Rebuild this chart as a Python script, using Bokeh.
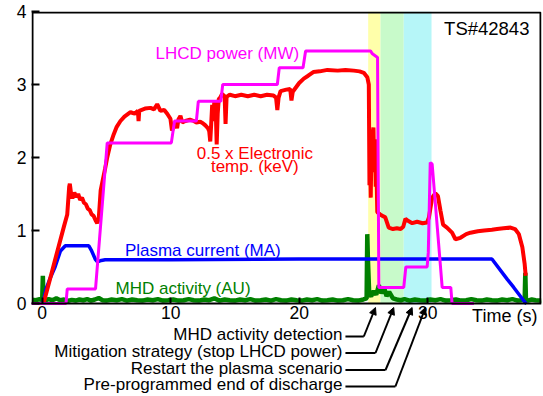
from bokeh.plotting import figure
from bokeh.models import Range1d, LinearAxis, FixedTicker, Arrow, NormalHead
from bokeh.core.properties import value
from bokeh.embed import file_html
from bokeh.resources import INLINE

FONT = "Liberation Sans"

# ---------------- data (time in s) ----------------
# Plasma current (MA)
ip_t = [0.05, 0.3, 0.65, 1.0, 1.42, 1.8, 3.63, 3.85, 4.15, 4.3, 4.6, 4.9, 10.0, 20.0, 25.0, 30.0, 35.0, 36.2, 36.7, 37.6, 37.7]
ip_y = [0.0, 0.2, 0.36, 0.5, 0.72, 0.79, 0.79, 0.72, 0.6, 0.57, 0.59, 0.6, 0.6, 0.61, 0.61, 0.61, 0.61, 0.33, 0.22, 0.01, 0.0]

# LHCD power (MW)
lh_t = [-0.83, 1.85, 1.95, 4.15, 5.06, 10.05, 10.3, 12.0, 12.15, 13.9, 14.05, 18.3, 18.45, 20.3, 20.5,
        25.55, 25.7, 26.1, 26.2, 26.3, 28.14, 28.3, 29.96, 30.05, 30.2, 30.35, 31.13, 31.8, 31.9, 33.6]
lh_y = [0.0, 0.0, 0.2, 0.2, 2.2, 2.2, 2.5, 2.5, 2.77, 2.77, 3.0, 3.0, 3.23, 3.23, 3.46,
        3.46, 3.42, 3.37, 0.22, 0.22, 0.22, 0.5, 0.5, 0.7, 1.93, 1.91, 0.22, 0.22, 0.0, 0.0]

# 0.5 x Electronic temperature (keV)
te_t = [0.1, 0.6, 1.2, 1.7, 1.95, 2.1, 2.15, 2.25, 2.35, 2.5, 2.65, 2.8, 2.95, 3.1, 3.25, 3.4, 3.55, 3.7,
        3.85, 4.0, 4.15, 4.28, 4.4, 4.55, 4.7, 4.9, 5.06, 5.3, 5.57, 5.8, 6.09, 6.4, 6.87, 7.2, 7.45,
        7.5, 7.55, 8.0, 8.43, 8.7, 8.95, 9.2, 9.5, 9.73, 9.98, 10.1, 10.25, 10.37, 10.5, 10.6, 10.76,
        10.9, 11.15, 11.5, 11.8, 12.0, 12.3, 12.5, 12.7, 12.9, 13.0, 13.08, 13.15, 13.23, 13.3, 13.4,
        13.5, 13.58, 13.66, 13.74, 13.85, 14.0, 14.2, 14.27, 14.35, 14.6, 15.0, 15.5, 16.0, 16.5, 17.0,
        17.5, 18.0, 18.2, 18.3, 18.4, 18.55, 19.0, 19.3, 19.4, 19.5, 20.0, 20.36, 20.7, 21.1, 21.6,
        22.2, 23.0, 23.6, 24.25, 24.7, 25.03, 25.3, 25.42, 25.47, 25.52, 25.57, 25.63, 25.7, 25.78,
        25.84, 25.9, 25.96, 26.02, 26.08, 26.3, 26.5, 26.7, 26.97, 27.3, 27.6, 27.9, 28.1, 28.27, 28.5,
        28.8, 29.18, 29.6, 29.96, 30.1, 30.35, 30.6, 30.8, 31.0, 31.2, 31.5, 31.9, 32.16, 32.55, 33.0,
        33.33, 33.9, 34.4, 35.0, 35.4, 35.9, 36.45, 36.8, 37.1, 37.37, 37.55, 37.63]
te_y = [0.0, 0.33, 0.73, 1.06, 1.22, 1.6, 1.64, 1.5, 1.44, 1.52, 1.46, 1.5, 1.42, 1.45, 1.38, 1.36, 1.3, 1.28,
        1.22, 1.2, 1.14, 1.1, 1.16, 1.55, 1.68, 1.85, 2.0, 2.18, 2.32, 2.42, 2.5, 2.56, 2.62, 2.6, 2.64,
        2.5, 2.64, 2.67, 2.68, 2.66, 2.73, 2.64, 2.65, 2.6, 2.53, 2.37, 2.42, 2.48, 2.4, 2.52, 2.57,
        2.48, 2.5, 2.52, 2.5, 2.48, 2.49, 2.47, 2.44, 2.4, 2.36, 2.22, 2.45, 2.72, 2.5, 2.78,
        2.7, 2.18, 2.6, 2.8, 2.82, 2.87, 2.84, 2.46, 2.83, 2.86, 2.84, 2.86, 2.84, 2.86, 2.84,
        2.86, 2.85, 2.82, 2.65, 2.82, 2.91, 2.93, 2.94, 2.78, 2.9, 3.02, 3.08, 3.12, 3.17, 3.18,
        3.2, 3.19, 3.2, 3.19, 3.18, 3.16, 3.1, 3.0, 1.62, 2.05, 1.45, 2.2, 2.3, 2.41,
        1.8, 2.25, 1.6, 1.8, 1.25, 1.22, 1.2, 1.18, 1.04, 1.02, 1.03, 1.02, 1.05, 1.16, 1.13,
        1.1, 1.12, 1.1, 1.11, 1.18, 1.45, 1.51, 1.47, 1.27, 1.08, 1.04, 0.97, 0.88, 0.9, 0.95,
        0.97, 0.99, 1.0, 1.01, 1.02, 1.03, 1.04, 1.02, 0.95, 0.77, 0.54, 0.38]

# MHD activity (AU)
mhd_t = [-0.8, -0.5, -0.2, 0.0, 0.05, 0.1, 0.2, 0.5, 0.8, 1.1, 1.4, 1.7, 2.0, 2.3, 2.6, 2.9, 3.2, 3.5, 3.8,
         4.1, 4.4, 4.7, 5.0, 5.4, 5.8, 6.2, 6.6, 7.0, 7.4, 7.8, 8.2, 8.6, 9.0, 9.4, 9.8, 10.2, 10.6, 11.0,
         11.4, 11.8, 12.2, 12.6, 13.0, 13.4, 13.8, 14.2, 14.6, 15.0, 15.4, 15.8, 16.2, 16.6, 17.0, 17.4,
         17.8, 18.2, 18.6, 19.0, 19.4, 19.8, 20.2, 20.6, 21.0, 21.4, 21.8, 22.2, 22.6, 23.0, 23.4, 23.8,
         24.2, 24.6, 25.0, 25.25, 25.3, 25.35, 25.45, 25.6, 25.8, 26.0, 26.2, 26.4, 26.6, 26.8, 27.0,
         27.3, 27.6, 27.9, 28.2, 28.6, 29.0, 29.4, 29.8, 30.2, 30.6, 31.0, 31.4, 31.8, 32.2, 32.6, 33.0,
         33.4, 33.8, 34.2, 34.6, 35.0, 35.4, 35.8, 36.2, 36.6, 37.0, 37.3, 37.55, 37.6, 37.65, 37.8,
         38.1, 38.4, 38.7, 38.86]
mhd_y = [0.05, 0.045, 0.06, 0.045, 0.38, 0.05, 0.04, 0.06, 0.045, 0.07, 0.045, 0.055, 0.035, 0.05, 0.04, 0.055, 0.045, 0.06, 0.04,
         0.055, 0.075, 0.045, 0.04, 0.055, 0.045, 0.06, 0.04, 0.055, 0.045, 0.04, 0.055, 0.045, 0.06, 0.04, 0.045, 0.055, 0.04, 0.045,
         0.06, 0.045, 0.04, 0.055, 0.045, 0.07, 0.04, 0.055, 0.045, 0.04, 0.055, 0.045, 0.06, 0.04, 0.045, 0.055,
         0.04, 0.06, 0.045, 0.04, 0.055, 0.045, 0.04, 0.055, 0.045, 0.06, 0.04, 0.045, 0.055, 0.04, 0.045, 0.06,
         0.045, 0.04, 0.055, 0.07, 0.95, 0.6, 0.13, 0.1, 0.17, 0.12, 0.25, 0.14, 0.22, 0.1, 0.16,
         0.07, 0.055, 0.045, 0.06, 0.04, 0.055, 0.045, 0.04, 0.055, 0.045, 0.06, 0.04, 0.045, 0.055, 0.04, 0.045,
         0.06, 0.045, 0.04, 0.055, 0.045, 0.04, 0.055, 0.045, 0.06, 0.04, 0.045, 0.055, 0.42, 0.045, 0.04,
         0.055, 0.045, 0.04, 0.045]

# phases (coloured bands)
band_start = [25.37, 26.33, 28.14]
band_end = [26.33, 28.14, 30.3]
band_colors = ["#FFFFAA", "#C8FACA", "#B6F6F8"]

y_ticks = [0, 1, 2, 3, 4]
x_ticks = [0, 10, 20, 30]

# annotation texts below the time axis and the times their arrows point to
event_labels = ["MHD activity detection", "Mitigation strategy (stop LHCD power)",
                "Restart the plasma scenario", "Pre-programmed end of discharge"]
event_bend = [25.03, 25.94, 26.72, 27.49]
event_tip = [25.94, 27.36, 28.79, 29.83]

assert len(ip_t) == len(ip_y) and len(lh_t) == len(lh_y)
assert len(te_t) == len(te_y) and len(mhd_t) == len(mhd_y)

# ---------------- figure ----------------
W, H = 543, 396
ML, MR, MT = 31, 2, 11
X0, X1 = -0.833, 38.86
Y1 = 4.0
PX_PER_Y = 73.0
Y0 = Y1 - (H - MT) / PX_PER_Y
PX_PER_X = (W - ML - MR) / (X1 - X0)

p = figure(width=W, height=H, x_range=Range1d(X0, X1), y_range=Range1d(Y0, Y1),
           output_backend="svg", toolbar_location=None, x_axis_type=None, y_axis_type=None,
           min_border_left=ML, min_border_right=MR, min_border_top=MT, min_border_bottom=0)
p.outline_line_color = None
p.background_fill_color = "white"
p.border_fill_color = "white"

p.quad(left=band_start, right=band_end, bottom=0, top=4, fill_color=band_colors, line_color=None)

p.line(mhd_t, mhd_y, line_color="#008000", line_width=4.5)
p.line(ip_t, ip_y, line_color="#0000FF", line_width=3.5)
p.line(te_t, te_y, line_color="#FF0000", line_width=4)
p.line(lh_t, lh_y, line_color="#FF00FF", line_width=3)

# frame box (left, top, right sides; the bottom is the time axis)
dx, dy = 1.0 / PX_PER_X, 1.0 / PX_PER_Y
p.line([X0 + dx, X0 + dx, X1 - dx, X1 - dx], [0, Y1 - dy, Y1 - dy, 0], line_color="black", line_width=2)


def txt(x, y, s, color, size="17px", align="center"):
    p.text(x=[x], y=[y], text=[s], text_color=color, text_font=value(FONT),
           text_font_size=size, text_align=align, text_baseline="middle")


txt(8.82, 3.43, "LHCD power (MW)", "#FF00FF", align="left")
txt(16.55, 2.06, "0.5 x Electronic", "#FF0000")
txt(16.55, 1.87, "temp. (keV)", "#FF0000")
txt(12.5, 0.73, "Plasma current (MA)", "#0000FF")
txt(10.96, 0.21, "MHD activity (AU)", "#008000")
txt(34.6, 3.77, "TS#42843", "black", size="18.5px")
txt(36.0, -12.5 / PX_PER_Y, "Time (s)", "black", size="18px")

# event annotations with leader arrows
text_off = [30.5, 47.5, 64.5, 81.0]
line_off = [33.0, 49.5, 66.5, 83.0]
for lab, off, loff, xb, xt in zip(event_labels, text_off, line_off, event_bend, event_tip):
    yt = -off / PX_PER_Y
    yl = -loff / PX_PER_Y
    txt(23.37, yt, lab, "black", size="17px", align="right")
    p.line([23.6, xb], [yl, yl], line_color="black", line_width=2)
    p.add_layout(Arrow(end=NormalHead(size=7, fill_color="black", line_color="black", line_width=1),
                       x_start=xb, y_start=yl, x_end=xt, y_end=-4 / PX_PER_Y,
                       line_color="black", line_width=2))


# ---------------- axes ----------------
def mk_axis(ticks, **kw):
    return LinearAxis(ticker=FixedTicker(ticks=ticks), major_tick_line_width=2,
                      major_tick_line_color="black", major_tick_out=0,
                      minor_tick_in=0, minor_tick_out=0, major_label_text_font=FONT,
                      major_label_text_font_size="17.5px", major_label_text_color="black", **kw)


p.add_layout(mk_axis(y_ticks, axis_line_color=None, major_tick_in=8, major_label_standoff=5), "left")
p.add_layout(mk_axis(x_ticks, fixed_location=0, axis_line_width=2, axis_line_color="black",
                     major_tick_in=6, major_label_standoff=2), "below")

open("out.html", "w").write(file_html(p, INLINE))
